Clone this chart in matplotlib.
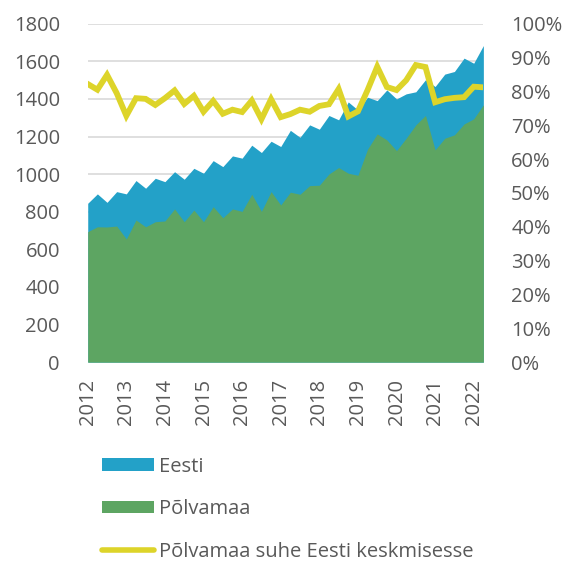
import matplotlib.pyplot as plt
from matplotlib.patches import Patch
from matplotlib.lines import Line2D

plt.rcParams['font.family'] = ['Open Sans', 'DejaVu Sans']

years = ['2012', '2013', '2014', '2015', '2016', '2017',
         '2018', '2019', '2020', '2021', '2022']

# quarterly values, 2012 Q1 .. 2022 Q2
eesti = [845, 895, 850, 907, 895, 966, 925, 978, 960, 1013, 973, 1031, 1005, 1072,
         1040, 1097, 1085, 1154, 1115, 1175, 1147, 1233, 1196, 1262, 1239, 1312, 1289,
         1384, 1341, 1409, 1391, 1448, 1400, 1427, 1438, 1502, 1466, 1532, 1546, 1617,
         1590, 1684]
polvamaa = [694, 720, 719, 724, 655, 756, 720, 747, 751, 815, 747, 809, 747, 827,
            768, 815, 802, 893, 802, 907, 836, 904, 893, 939, 941, 1001, 1035,
            1005, 994, 1133, 1214, 1182, 1125, 1191, 1262, 1312, 1129, 1191, 1209, 1267,
            1294, 1369]
suhe = [82.2, 80.5, 84.9, 79.5, 72.8, 78.0, 77.8, 76.0, 78.0, 80.3, 76.3, 78.7, 74.0, 77.2,
        73.4, 74.6, 73.9, 77.3, 71.8, 77.7, 72.4, 73.3, 74.6, 74.0, 75.7, 76.2, 80.7,
        72.6, 74.1, 80.4, 87.3, 81.3, 80.4, 83.3, 87.8, 87.2, 76.8, 77.7, 78.1, 78.3,
        81.4, 81.2]

blue = '#23a1c8'
green = '#5da562'
yellow = '#ddd42a'
grey = '#595959'

x = list(range(len(eesti)))

fig = plt.figure(figsize=(5.66, 5.65), dpi=100)
ax = fig.add_axes([0.155, 0.359, 0.699, 0.599])

ax.fill_between(x, 0, eesti, color=blue, linewidth=0, zorder=2)
ax.fill_between(x, 0, polvamaa, color=green, linewidth=0, zorder=3)

ax.set_xlim(0, len(x) - 1)
ax.set_ylim(0, 1800)
ax.set_yticks(range(0, 1801, 200))
ax.grid(axis='y', color='#d9d9d9', linewidth=1.2, zorder=0)
ax.set_axisbelow(True)
ax.set_xticks(range(0, len(x), 4))
ax.set_xticklabels(years, rotation=90)
for s in ax.spines.values():
    s.set_visible(False)
ax.tick_params(length=0, labelsize=14.5, colors=grey)
ax.tick_params(axis='y', pad=20)
ax.tick_params(axis='x', pad=12)

ax2 = ax.twinx()
ax2.plot(x, suhe, color=yellow, linewidth=4.2, solid_joinstyle='miter', zorder=5)
ax2.set_ylim(0, 100)
ax2.set_yticks(range(0, 101, 10))
ax2.set_yticklabels([f'{v}%' for v in range(0, 101, 10)])
for s in ax2.spines.values():
    s.set_visible(False)
ax2.tick_params(length=0, labelsize=14.5, colors=grey, pad=20)

handles = [Patch(facecolor=blue, edgecolor='none'),
           Patch(facecolor=green, edgecolor='none'),
           Line2D([0], [0], color=yellow, linewidth=4, solid_capstyle='round')]
labels = ['Eesti', 'Põlvamaa', 'Põlvamaa suhe Eesti keskmisesse']
leg = fig.legend(handles, labels, loc='upper left', bbox_to_anchor=(0.180, 0.192),
                 frameon=False, fontsize=14.5, handlelength=2.6, handleheight=0.6,
                 handletextpad=0.25, labelspacing=1.12, borderaxespad=0, borderpad=0)
for t in leg.get_texts():
    t.set_color(grey)

fig.savefig('out.png', dpi=100)
